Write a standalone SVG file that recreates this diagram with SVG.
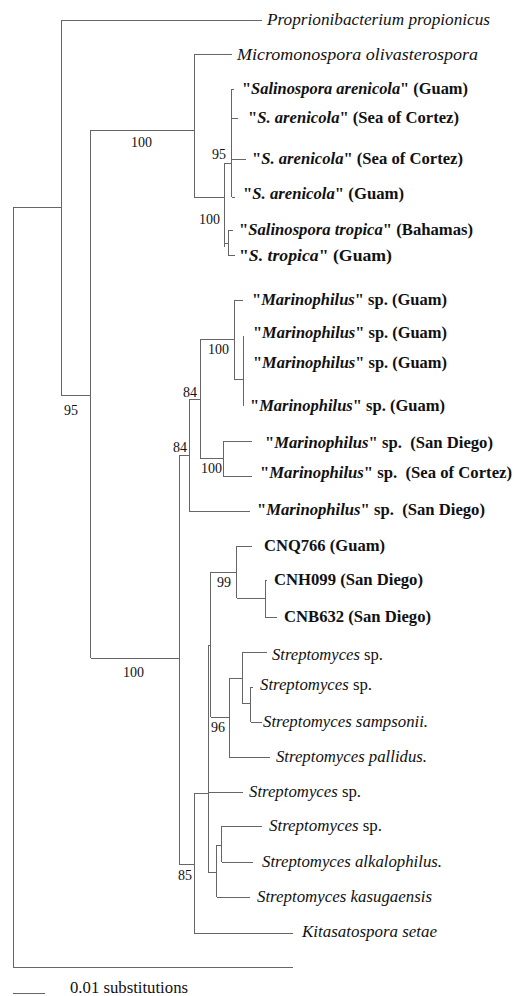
<svg xmlns="http://www.w3.org/2000/svg" width="514" height="996" viewBox="0 0 514 996">
<style>
.e{fill:none;stroke:#666;stroke-width:1;shape-rendering:crispEdges}
.t text{font-size:16px;fill:#111;white-space:pre}
.i{font-style:italic}
.b{font-weight:bold}
.t .bs{font-size:14px}
</style>
<rect width="514" height="996" fill="#fff"/>
<g id="connectors" class="e">
<path d="M13,207V967M13,207H61M13,967H293M61,20V395M61,20H262M61,395H90.7M90.7,130V658M90.7,130H194M90.7,658H179"/>
<path d="M194,54V197M194,54H232M194,197H224M224,163V247M224,163H231.7M231.7,89V197M231.7,89H234M231.7,118H238M231.7,159H246M231.7,197H235M224,243H228M228,230V255M228,230H233M228,255H235"/>
<path d="M179,455V864M179,455H189M189,399V511M189,511H250M189,399H200M200,339V458M200,339H234M234,300V379M234,300H243M234,379H243M243,336V406M200,458H223M223,441V476M223,441H252M223,476H252"/>
<path d="M179,864H194.3M194.3,793V933M194.3,933H293M194.3,793H208.3M208.3,645V872M208.3,792H243M208.3,645H210.7M210.7,572V717M210.7,572H236.7M236.7,546V598M236.7,546H251.7M236.7,598H265M265,580V617M265,580H266.7M265,617H277M210.7,717H229M229,678V757M229,757H270M229,678H242M242,652V703M242,652H267M242,703H250.7M250.7,687V722M250.7,687H252.7M250.7,722H262M208.3,872H216.7M216.7,845V897M216.7,897H250M216.7,845H221.7M221.7,826V862M221.7,826H262M221.7,862H253"/>
<path d="M13,993H45"/>
</g>
<g class="t" font-family="'Liberation Serif', 'DejaVu Serif', 'Times New Roman', serif">
<g id="bootstrap">
<g id="bs-95a"><text class="bs" x="64" y="415">95</text></g>
<g id="bs-100a"><text class="bs" x="131" y="147">100</text></g>
<g id="bs-95b"><text class="bs" x="212" y="159">95</text></g>
<g id="bs-100b"><text class="bs" x="199" y="224">100</text></g>
<g id="bs-84a"><text class="bs" x="183" y="397">84</text></g>
<g id="bs-84b"><text class="bs" x="173" y="452">84</text></g>
<g id="bs-100c"><text class="bs" x="208" y="354">100</text></g>
<g id="bs-100d"><text class="bs" x="201" y="473">100</text></g>
<g id="bs-100e"><text class="bs" x="123" y="677">100</text></g>
<g id="bs-99"><text class="bs" x="217" y="587">99</text></g>
<g id="bs-96"><text class="bs" x="211" y="732">96</text></g>
<g id="bs-85"><text class="bs" x="178" y="880">85</text></g>
</g>
<g id="leaf-proprionibacterium"><text class="i" x="267" y="25" textLength="223" lengthAdjust="spacingAndGlyphs">Proprionibacterium propionicus</text></g>
<g id="leaf-micromonospora"><text class="i" x="237" y="60" textLength="241" lengthAdjust="spacingAndGlyphs">Micromonospora olivasterospora</text></g>
<g id="leaf-sal-aren-guam1"><text class="b" x="242" y="94" textLength="226" lengthAdjust="spacingAndGlyphs">"<tspan class="i">Salinospora arenicola</tspan>" (Guam)</text></g>
<g id="leaf-sal-aren-soc1"><text class="b" x="248" y="123" textLength="211" lengthAdjust="spacingAndGlyphs">"<tspan class="i">S. arenicola</tspan>" (Sea of Cortez)</text></g>
<g id="leaf-sal-aren-soc2"><text class="b" x="252" y="164" textLength="211" lengthAdjust="spacingAndGlyphs">"<tspan class="i">S. arenicola</tspan>" (Sea of Cortez)</text></g>
<g id="leaf-sal-aren-guam2"><text class="b" x="243" y="199" textLength="161" lengthAdjust="spacingAndGlyphs">"<tspan class="i">S. arenicola</tspan>" (Guam)</text></g>
<g id="leaf-sal-trop-bahamas"><text class="b" x="239" y="235" textLength="234" lengthAdjust="spacingAndGlyphs">"<tspan class="i">Salinospora tropica</tspan>" (Bahamas)</text></g>
<g id="leaf-sal-trop-guam"><text class="b" x="239" y="261" textLength="153" lengthAdjust="spacingAndGlyphs">"<tspan class="i">S. tropica</tspan>" (Guam)</text></g>
<g id="leaf-mar-guam1"><text class="b" x="252" y="305" textLength="195" lengthAdjust="spacingAndGlyphs">"<tspan class="i">Marinophilus</tspan>" sp. (Guam)</text></g>
<g id="leaf-mar-guam2"><text class="b" x="253" y="338" textLength="194" lengthAdjust="spacingAndGlyphs">"<tspan class="i">Marinophilus</tspan>" sp. (Guam)</text></g>
<g id="leaf-mar-guam3"><text class="b" x="253" y="368" textLength="194" lengthAdjust="spacingAndGlyphs">"<tspan class="i">Marinophilus</tspan>" sp. (Guam)</text></g>
<g id="leaf-mar-guam4"><text class="b" x="250" y="411" textLength="195" lengthAdjust="spacingAndGlyphs">"<tspan class="i">Marinophilus</tspan>" sp. (Guam)</text></g>
<g id="leaf-mar-sd1"><text class="b" x="265" y="448" textLength="228" lengthAdjust="spacingAndGlyphs">"<tspan class="i">Marinophilus</tspan>" sp.  (San Diego)</text></g>
<g id="leaf-mar-soc"><text class="b" x="260" y="478" textLength="252" lengthAdjust="spacingAndGlyphs">"<tspan class="i">Marinophilus</tspan>" sp.  (Sea of Cortez)</text></g>
<g id="leaf-mar-sd2"><text class="b" x="257" y="515" textLength="228" lengthAdjust="spacingAndGlyphs">"<tspan class="i">Marinophilus</tspan>" sp.  (San Diego)</text></g>
<g id="leaf-cnq766"><text class="b" x="264" y="551" textLength="121" lengthAdjust="spacingAndGlyphs">CNQ766 (Guam)</text></g>
<g id="leaf-cnh099"><text class="b" x="274" y="585" textLength="149" lengthAdjust="spacingAndGlyphs">CNH099 (San Diego)</text></g>
<g id="leaf-cnb632"><text class="b" x="284" y="622" textLength="147" lengthAdjust="spacingAndGlyphs">CNB632 (San Diego)</text></g>
<g id="leaf-strep-sp1"><text x="272" y="660" textLength="111" lengthAdjust="spacingAndGlyphs"><tspan class="i">Streptomyces</tspan> sp.</text></g>
<g id="leaf-strep-sp2"><text x="260" y="690" textLength="112" lengthAdjust="spacingAndGlyphs"><tspan class="i">Streptomyces</tspan> sp.</text></g>
<g id="leaf-strep-sampsonii"><text class="i" x="263" y="727" textLength="165" lengthAdjust="spacingAndGlyphs">Streptomyces sampsonii.</text></g>
<g id="leaf-strep-pallidus"><text class="i" x="276" y="762" textLength="151" lengthAdjust="spacingAndGlyphs">Streptomyces pallidus.</text></g>
<g id="leaf-strep-sp3"><text x="249" y="797" textLength="112" lengthAdjust="spacingAndGlyphs"><tspan class="i">Streptomyces</tspan> sp.</text></g>
<g id="leaf-strep-sp4"><text x="269" y="831" textLength="113" lengthAdjust="spacingAndGlyphs"><tspan class="i">Streptomyces</tspan> sp.</text></g>
<g id="leaf-strep-alkalophilus"><text class="i" x="262" y="867" textLength="180" lengthAdjust="spacingAndGlyphs">Streptomyces alkalophilus.</text></g>
<g id="leaf-strep-kasugaensis"><text class="i" x="257" y="902" textLength="175" lengthAdjust="spacingAndGlyphs">Streptomyces kasugaensis</text></g>
<g id="leaf-kitasatospora"><text class="i" x="302" y="937" textLength="135" lengthAdjust="spacingAndGlyphs">Kitasatospora setae</text></g>
<g id="scale"><text x="70" y="993" textLength="118" lengthAdjust="spacingAndGlyphs">0.01 substitutions</text></g>
</g>
</svg>
